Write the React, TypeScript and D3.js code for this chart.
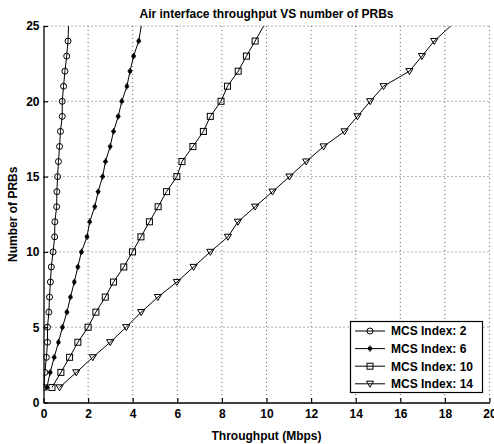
import React, { useEffect, useRef } from "react";
import * as d3 from "d3";

// number of PRBs (y) and throughput in Mbps (x) per MCS index
const prbs = [1, 2, 3, 4, 5, 6, 7, 8, 9, 10, 11, 12, 13, 14, 15, 16, 17, 18, 19, 20, 21, 22, 23, 24, 26];
const mcs2 = [0.02, 0.06, 0.13, 0.18, 0.18, 0.24, 0.27, 0.31, 0.35, 0.43, 0.5, 0.51, 0.59, 0.6, 0.63, 0.67, 0.72, 0.76, 0.84, 0.84, 0.9, 0.96, 1.04, 1.1, 1.14];
const mcs6 = [0.15, 0.3, 0.48, 0.67, 0.85, 1.05, 1.21, 1.38, 1.54, 1.7, 1.95, 2.07, 2.3, 2.45, 2.65, 2.78, 2.99, 3.14, 3.35, 3.51, 3.74, 3.88, 4.04, 4.27, 4.5];
const mcs10 = [0.38, 0.78, 1.17, 1.54, 2.0, 2.35, 2.77, 3.14, 3.6, 3.99, 4.37, 4.75, 5.14, 5.52, 5.98, 6.21, 6.7, 7.17, 7.48, 7.96, 8.25, 8.73, 9.1, 9.49, 10.25];
const mcs14 = [0.72, 1.47, 2.21, 2.99, 3.71, 4.38, 5.13, 5.98, 6.73, 7.48, 8.27, 8.72, 9.49, 10.27, 11.03, 11.78, 12.56, 13.5, 14.08, 14.65, 15.25, 16.41, 16.97, 17.52, 19.0];

const seriesNames = ["MCS Index: 2", "MCS Index: 6", "MCS Index: 10", "MCS Index: 14"];
const seriesMarkers = ["circle", "star", "square", "triangle"];
const xTicks = [0, 2, 4, 6, 8, 10, 12, 14, 16, 18, 20];
const yTicks = [0, 5, 10, 15, 20, 25];

const font = "Arial, 'Liberation Sans', Helvetica, sans-serif";

function drawMarker(g: any, type: string, cx: number, cy: number) {
  if (type === "circle") {
    g.append("circle").attr("cx", cx).attr("cy", cy).attr("r", 3)
      .attr("fill", "none").attr("stroke", "#000");
  } else if (type === "square") {
    g.append("rect").attr("x", cx - 3).attr("y", cy - 3).attr("width", 6).attr("height", 6)
      .attr("fill", "none").attr("stroke", "#000");
  } else if (type === "triangle") {
    g.append("path")
      .attr("d", `M${cx - 3.6},${cy - 2.6}L${cx + 3.6},${cy - 2.6}L${cx},${cy + 3.4}Z`)
      .attr("fill", "none").attr("stroke", "#000");
  } else {
    // asterisk-like marker, a bit taller than wide
    const sx = 2.4, sy = 3.2, d = 1.6;
    g.append("path")
      .attr("d", `M${cx - sx},${cy}L${cx + sx},${cy}M${cx},${cy - sy}L${cx},${cy + sy}` +
        `M${cx - d},${cy - d}L${cx + d},${cy + d}M${cx - d},${cy + d}L${cx + d},${cy - d}`)
      .attr("stroke", "#000").attr("stroke-width", 1.2);
  }
}

export default function App() {
  const ref = useRef<SVGSVGElement>(null);

  useEffect(() => {
    const svg = d3.select(ref.current);
    svg.selectAll("*").remove();

    const left = 43.5, right = 489.5, top = 26, bottom = 402.5;
    const x = d3.scaleLinear().domain([0, 20]).range([left, right]);
    const y = d3.scaleLinear().domain([0, 25]).range([bottom, top]);

    svg.append("rect").attr("width", 494).attr("height", 444).attr("fill", "#fff");

    svg.append("defs").append("clipPath").attr("id", "plotClip")
      .append("rect").attr("x", left).attr("y", top).attr("width", right - left).attr("height", bottom - top);

    // dotted grid
    const grid = svg.append("g").attr("stroke", "#666").attr("stroke-dasharray", "1,3").attr("stroke-width", 1);
    xTicks.slice(1).forEach((t) => {
      grid.append("line").attr("x1", x(t)).attr("x2", x(t)).attr("y1", top).attr("y2", bottom);
    });
    yTicks.slice(1).forEach((t) => {
      grid.append("line").attr("x1", left).attr("x2", right).attr("y1", y(t)).attr("y2", y(t));
    });

    // series
    const all = [mcs2, mcs6, mcs10, mcs14];
    const plot = svg.append("g").attr("clip-path", "url(#plotClip)");
    const line = d3.line<number>().x((d) => x(d)).y((d, i) => y(prbs[i]));
    all.forEach((vals, si) => {
      plot.append("path").datum(vals).attr("d", line).attr("fill", "none")
        .attr("stroke", "#000").attr("stroke-width", 1);
      const mg = plot.append("g");
      vals.forEach((v, i) => drawMarker(mg, seriesMarkers[si], x(v), y(prbs[i])));
    });

    // axes
    const xAxis = svg.append("g").attr("transform", `translate(0,${bottom})`)
      .call(d3.axisBottom(x).tickValues(xTicks).tickSizeInner(-4.5).tickSizeOuter(0).tickPadding(7));
    const yAxis = svg.append("g").attr("transform", `translate(${left},0)`)
      .call(d3.axisLeft(y).tickValues(yTicks).tickSizeInner(-4.5).tickSizeOuter(0).tickPadding(4));
    [xAxis, yAxis].forEach((a) => {
      a.select(".domain").attr("stroke", "#000").attr("stroke-width", 1.3);
      a.selectAll("line").attr("stroke", "#000").attr("stroke-width", 1.2);
      a.selectAll("text").attr("font-family", font).attr("font-size", 12)
        .attr("font-weight", "bold").attr("fill", "#000");
    });

    // title and axis labels
    svg.append("text").attr("x", (left + right) / 2).attr("y", 17.5).attr("text-anchor", "middle")
      .attr("font-family", font).attr("font-size", 12).attr("font-weight", "bold")
      .text("Air interface throughput VS number of PRBs");
    svg.append("text").attr("x", (left + right) / 2).attr("y", 440).attr("text-anchor", "middle")
      .attr("font-family", font).attr("font-size", 12).attr("font-weight", "bold")
      .text("Throughput (Mbps)");
    svg.append("text").attr("transform", `translate(17,${(top + bottom) / 2}) rotate(-90)`)
      .attr("text-anchor", "middle")
      .attr("font-family", font).attr("font-size", 12).attr("font-weight", "bold")
      .text("Number of PRBs");

    // legend
    const lg = svg.append("g");
    lg.append("rect").attr("x", 350.5).attr("y", 321.5).attr("width", 132).attr("height", 71)
      .attr("fill", "#fff").attr("stroke", "#000").attr("stroke-width", 1.2);
    seriesNames.forEach((name, i) => {
      const ly = 331 + i * 17.6;
      lg.append("line").attr("x1", 355).attr("x2", 385).attr("y1", ly).attr("y2", ly)
        .attr("stroke", "#000");
      drawMarker(lg, seriesMarkers[i], 370, ly);
      lg.append("text").attr("x", 391).attr("y", ly).attr("dy", "0.36em")
        .attr("font-family", font).attr("font-size", 12).attr("font-weight", "bold")
        .text(name);
    });
  }, []);

  return (
    <svg ref={ref} width={494} height={444}
      style={{ position: "absolute", left: 0, top: 0, display: "block" }} />
  );
}
